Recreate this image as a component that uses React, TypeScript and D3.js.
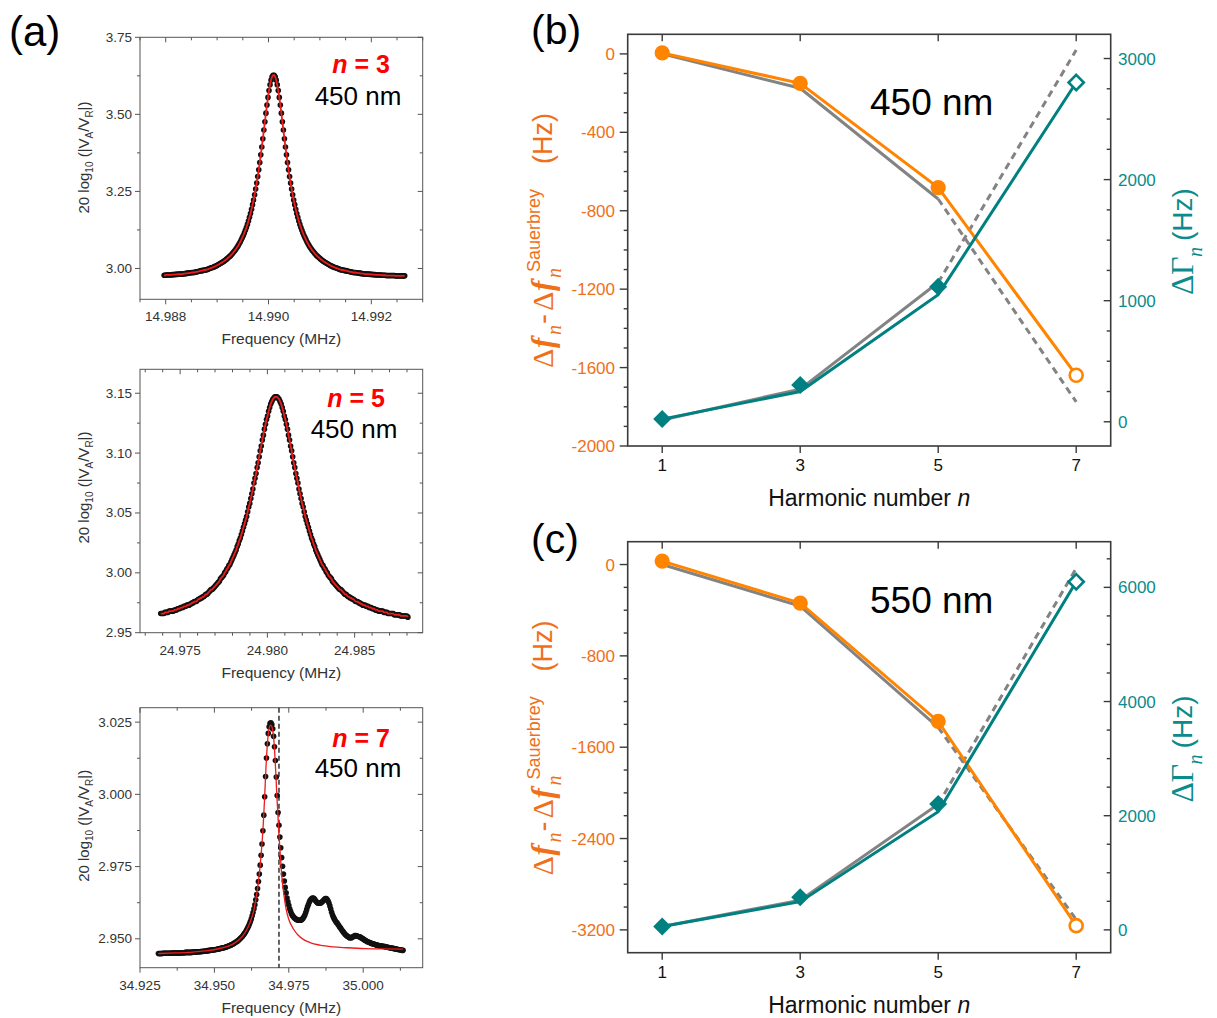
import React from "react";
import * as d3 from "d3";

const SANS = "'Liberation Sans', Arial, Helvetica, sans-serif";
const SERIF = "'Liberation Serif', 'Times New Roman', serif";

// ---------------- (a) resonance spectra, 450 nm film ----------------
// n = 3 sweep
const n3FreqStart = 14.98797; // MHz
const n3FreqStep = 0.00002; // MHz
const n3Level = [
  2.978, 2.978, 2.979, 2.979, 2.979, 2.979, 2.979,
  2.979, 2.980, 2.980, 2.980, 2.981, 2.981, 2.981, 2.982, 2.982, 2.982,
  2.982, 2.982, 2.983, 2.983, 2.984, 2.984, 2.985, 2.985, 2.986, 2.986,
  2.987, 2.987, 2.987, 2.988, 2.989, 2.989, 2.990, 2.991, 2.992, 2.993,
  2.993, 2.994, 2.995, 2.995, 2.996, 2.997, 2.998, 3.000, 3.001, 3.002,
  3.003, 3.005, 3.006, 3.008, 3.009, 3.011, 3.013, 3.015, 3.017, 3.019,
  3.021, 3.023, 3.026, 3.028, 3.031, 3.034, 3.037, 3.040, 3.043, 3.047,
  3.051, 3.055, 3.059, 3.064, 3.069, 3.074, 3.080, 3.086, 3.093, 3.100,
  3.107, 3.115, 3.124, 3.133, 3.143, 3.154, 3.166, 3.178, 3.192, 3.207,
  3.222, 3.239, 3.258, 3.277, 3.298, 3.320, 3.344, 3.369, 3.394, 3.421,
  3.449, 3.476, 3.504, 3.530, 3.555, 3.577, 3.596, 3.611, 3.622, 3.627,
  3.627, 3.622, 3.611, 3.596, 3.577, 3.555, 3.530, 3.504, 3.476, 3.449,
  3.421, 3.394, 3.369, 3.344, 3.320, 3.298, 3.277, 3.258, 3.239, 3.222,
  3.207, 3.192, 3.178, 3.166, 3.154, 3.143, 3.133, 3.124, 3.115, 3.107,
  3.100, 3.093, 3.086, 3.080, 3.074, 3.069, 3.064, 3.059, 3.055, 3.051,
  3.047, 3.043, 3.040, 3.037, 3.034, 3.031, 3.028, 3.026, 3.023, 3.021,
  3.019, 3.017, 3.015, 3.013, 3.011, 3.009, 3.008, 3.006, 3.005, 3.003,
  3.002, 3.001, 3.000, 2.998, 2.997, 2.996, 2.995, 2.995, 2.994, 2.993,
  2.993, 2.992, 2.991, 2.990, 2.989, 2.989, 2.988, 2.987, 2.987, 2.987,
  2.986, 2.986, 2.985, 2.985, 2.984, 2.984, 2.983, 2.983, 2.982, 2.982,
  2.982, 2.982, 2.982, 2.981, 2.981, 2.981, 2.980, 2.980, 2.980, 2.979,
  2.979, 2.979, 2.979, 2.979, 2.979, 2.978, 2.978,
  2.978, 2.978, 2.977, 2.977, 2.977, 2.977, 2.977, 2.977, 2.977, 2.977, 2.977,
  2.976, 2.976, 2.976, 2.976, 2.976, 2.976, 2.976, 2.976, 2.976, 2.976,
];
const n3FreqTicks = [14.988, 14.99, 14.992];
const n3LevelTicks = [3.0, 3.25, 3.5, 3.75];

// n = 5 sweep
const n5FreqStart = 24.97389;
const n5FreqStep = 0.00006;
const n5Level = [
  2.966,
  2.966, 2.966, 2.966, 2.967, 2.967, 2.967, 2.967, 2.968, 2.968, 2.968,
  2.968, 2.968, 2.969, 2.969, 2.969, 2.970, 2.970, 2.970, 2.971, 2.971,
  2.971, 2.972, 2.972, 2.972, 2.973, 2.973, 2.973, 2.974, 2.974, 2.975,
  2.975, 2.976, 2.976, 2.976, 2.977, 2.978, 2.978, 2.979, 2.979, 2.980,
  2.980, 2.981, 2.982, 2.982, 2.983, 2.984, 2.985, 2.986, 2.986, 2.987,
  2.988, 2.989, 2.990, 2.991, 2.992, 2.993, 2.995, 2.996, 2.997, 2.998,
  3.000, 3.001, 3.003, 3.004, 3.006, 3.007, 3.009, 3.011, 3.013, 3.015,
  3.017, 3.019, 3.022, 3.024, 3.027, 3.029, 3.032, 3.035, 3.038, 3.041,
  3.044, 3.047, 3.051, 3.055, 3.058, 3.062, 3.066, 3.070, 3.075, 3.079,
  3.083, 3.088, 3.092, 3.097, 3.102, 3.106, 3.111, 3.115, 3.120, 3.124,
  3.128, 3.131, 3.135, 3.138, 3.141, 3.143, 3.145, 3.146, 3.147,
  3.147,
  3.147, 3.146, 3.145, 3.143, 3.141, 3.138, 3.135, 3.131, 3.128,
  3.124, 3.120, 3.115, 3.111, 3.106, 3.102, 3.097, 3.092, 3.088, 3.083,
  3.079, 3.075, 3.070, 3.066, 3.062, 3.058, 3.055, 3.051, 3.047, 3.044,
  3.041, 3.038, 3.035, 3.032, 3.029, 3.027, 3.024, 3.022, 3.019, 3.017,
  3.015, 3.013, 3.011, 3.009, 3.007, 3.006, 3.004, 3.003, 3.001, 3.000,
  2.998, 2.997, 2.996, 2.995, 2.993, 2.992, 2.991, 2.990, 2.989, 2.988,
  2.987, 2.986, 2.986, 2.985, 2.984, 2.983, 2.982, 2.982, 2.981, 2.980,
  2.980, 2.979, 2.979, 2.978, 2.978, 2.977, 2.976, 2.976, 2.976, 2.975,
  2.975, 2.974, 2.974, 2.973, 2.973, 2.973, 2.972, 2.972, 2.972, 2.971,
  2.971, 2.971, 2.970, 2.970, 2.970, 2.969, 2.969, 2.969, 2.968, 2.968,
  2.968, 2.968, 2.968, 2.967, 2.967, 2.967, 2.967, 2.966, 2.966, 2.966,
  2.966, 2.966, 2.966, 2.965, 2.965, 2.965, 2.965, 2.965, 2.965, 2.964,
  2.964, 2.964, 2.964, 2.964, 2.964, 2.964, 2.963,
];
const n5FreqTicks = [24.975, 24.98, 24.985];
const n5LevelTicks = [2.95, 3.0, 3.05, 3.1, 3.15];

// n = 7 sweep
const n7FreqStart = 34.9312;
const n7FreqStep = 0.0003;
const n7Level = [
  2.9449, 2.9449, 2.9449, 2.9449, 2.9449, 2.9450, 2.9450, 2.9450, 2.9450, 2.9450,
  2.9450, 2.9450, 2.9450, 2.9450, 2.9450, 2.9451, 2.9451, 2.9451, 2.9451, 2.9451,
  2.9451, 2.9451, 2.9451, 2.9451, 2.9451, 2.9452, 2.9452, 2.9452, 2.9452, 2.9452,
  2.9453, 2.9453, 2.9453, 2.9453, 2.9453, 2.9453, 2.9453, 2.9453, 2.9454, 2.9454,
  2.9454, 2.9454, 2.9454, 2.9455, 2.9455, 2.9455, 2.9455, 2.9456, 2.9456, 2.9456,
  2.9457, 2.9457, 2.9457, 2.9458, 2.9458, 2.9459, 2.9459, 2.9460, 2.9460, 2.9461,
  2.9461, 2.9461, 2.9462, 2.9462, 2.9463, 2.9463, 2.9464, 2.9465, 2.9465, 2.9466,
  2.9467, 2.9468, 2.9468, 2.9469, 2.9470, 2.9471, 2.9472, 2.9473, 2.9474, 2.9476,
  2.9477, 2.9478, 2.9480, 2.9481, 2.9483, 2.9485, 2.9487, 2.9489, 2.9491, 2.9493,
  2.9496, 2.9499, 2.9502, 2.9505, 2.9508, 2.9512, 2.9517, 2.9521, 2.9526, 2.9532,
  2.9538, 2.9544, 2.9552, 2.9560, 2.9569, 2.9580, 2.9591, 2.9604, 2.9618, 2.9635,
  2.9653, 2.9674, 2.9698, 2.9724, 2.9755, 2.9789, 2.9828, 2.9874, 2.9928, 2.9992,
  3.0062, 3.0126, 3.0175, 3.0211, 3.0234, 3.0246, 3.0248, 3.0242, 3.0227, 3.0201,
  3.0165, 3.0117, 3.0060, 2.9996, 2.9937, 2.9893, 2.9852, 2.9815, 2.9781, 2.9751,
  2.9724, 2.9700, 2.9678, 2.9659, 2.9641, 2.9628, 2.9616, 2.9604, 2.9595, 2.9587,
  2.9581, 2.9577, 2.9573, 2.9571, 2.9568, 2.9566, 2.9565, 2.9564, 2.9564, 2.9564,
  2.9565, 2.9568, 2.9571, 2.9576, 2.9582, 2.9591, 2.9601, 2.9611, 2.9619, 2.9627,
  2.9633, 2.9637, 2.9640, 2.9641, 2.9640, 2.9637, 2.9632, 2.9628, 2.9625, 2.9623,
  2.9623, 2.9623, 2.9624, 2.9627, 2.9630, 2.9633, 2.9637, 2.9639, 2.9639, 2.9636,
  2.9631, 2.9624, 2.9614, 2.9603, 2.9592, 2.9582, 2.9575, 2.9569, 2.9563, 2.9558,
  2.9555, 2.9550, 2.9546, 2.9541, 2.9537, 2.9532, 2.9528, 2.9524, 2.9520, 2.9516,
  2.9513, 2.9510, 2.9508, 2.9506, 2.9504, 2.9504, 2.9504, 2.9505, 2.9507, 2.9509,
  2.9511, 2.9511, 2.9510, 2.9509, 2.9508, 2.9507, 2.9506, 2.9504, 2.9502, 2.9500,
  2.9498, 2.9496, 2.9494, 2.9492, 2.9490, 2.9489, 2.9488, 2.9486, 2.9485, 2.9484,
  2.9483, 2.9482, 2.9481, 2.9480, 2.9479, 2.9478, 2.9477, 2.9477, 2.9476, 2.9476,
  2.9475, 2.9474, 2.9474, 2.9473, 2.9473, 2.9472, 2.9471, 2.9471, 2.9470, 2.9469,
  2.9469, 2.9468, 2.9467, 2.9467, 2.9466, 2.9465, 2.9465, 2.9464, 2.9463, 2.9463,
  2.9462, 2.9462, 2.9461, 2.9460, 2.9460,
];
// single-resonance fit of the n = 7 spectrum
const n7FitFreq = [
  34.93115, 34.93676, 34.9418, 34.94684, 34.9502, 34.95356, 34.95592, 34.95793,
  34.95961, 34.96096, 34.96213, 34.96314, 34.96398, 34.96465, 34.96533, 34.96583,
  34.96633, 34.96684, 34.96734, 34.96785, 34.96828, 34.96862, 34.96892, 34.96929,
  34.96963, 34.96996, 34.9703, 34.97063, 34.97097, 34.97131, 34.97171, 34.97221,
  34.97272, 34.97339, 34.97406, 34.97484, 34.97652, 34.97809, 34.97988, 34.98213,
  34.98549, 34.98986, 34.99446, 35.00061, 35.00565, 35.01338,
];
const n7FitLevel = [
  2.9449, 2.9451, 2.9453, 2.9458, 2.9463, 2.9471, 2.948, 2.9494,
  2.9511, 2.9533, 2.9561, 2.9594, 2.964, 2.9685, 2.9748, 2.9807,
  2.988, 2.998, 3.0095, 3.018, 3.0222, 3.0236, 3.024, 3.0235,
  3.022, 3.019, 3.014, 3.0075, 3.0, 2.9935, 2.986, 2.978,
  2.971, 2.965, 2.9605, 2.9572, 2.9535, 2.9513, 2.9498, 2.9487,
  2.9478, 2.9472, 2.9469, 2.9466, 2.9465, 2.9464,
];
const n7Marker = 34.9717; // MHz
const n7FreqTicks = [34.925, 34.95, 34.975, 35.0];
const n7LevelTicks = [2.95, 2.975, 3.0, 3.025];

// ---------------- (b), (c) harmonic dependence ----------------
const harmonics = [1, 3, 5, 7];
const openHarmonic = 7;

// 450 nm film
const shift450 = [5, -150, -682, -1639];
const shiftModel450 = [0, -175, -740, -1775];
const gamma450 = [22, 303, 1116, 2802];
const gammaFit450 = [22, 250, 1050, 2802];
const gammaModel450 = [15, 270, 1150, 3070];
const shiftTicks450 = [0, -400, -800, -1200, -1600, -2000];
const gammaTicks450 = [0, 1000, 2000, 3000];

// 550 nm film
const shift550 = [30, -338, -1374, -3163];
const shiftModel550 = [0, -364, -1426, -3110];
const gamma550 = [60, 571, 2205, 6098];
const gammaFit550 = [60, 494, 2070, 6098];
const gammaModel550 = [60, 520, 2200, 6333];
const shiftTicks550 = [0, -800, -1600, -2400, -3200];
const gammaTicks550 = [0, 2000, 4000, 6000];

const ORANGE = "#ff8400";
const ORANGE_TXT = "#f0701a";
const TEAL = "#008080";
const TEAL_TXT = "#0b8b8b";
const GRAY = "#838383";

function minorTicks(domain: number[], step: number, majors: number[]) {
  const lo = Math.ceil(domain[0] / step - 1e-6);
  const hi = Math.floor(domain[1] / step + 1e-6);
  return d3
    .range(lo, hi + 1)
    .map((k) => k * step)
    .filter((v) => !majors.some((m) => Math.abs(m - v) < step * 1e-3));
}

function Spectrum(p: any) {
  const L = 140;
  const R = 422.7;
  const x = d3.scaleLinear().domain(p.xDomain).range([L, R]);
  const y = d3.scaleLinear().domain(p.yDomain).range([p.bottom, p.top]);
  const pts = p.levels.map((v: number, i: number) => [p.freqStart + i * p.freqStep, v]);
  const fitPts = p.fitFreq ? p.fitFreq.map((f: number, i: number) => [f, p.fitLevel[i]]) : pts;
  const fitLine = d3
    .line<any>()
    .x((d) => x(d[0]))
    .y((d) => y(d[1]))
    .curve(d3.curveMonotoneX);
  const xm = minorTicks(p.xDomain, p.xMinor, p.xTicks);
  const ym = minorTicks(p.yDomain, p.yMinor, p.yTicks);
  const fx = d3.format(p.xFmt);
  const fy = d3.format(p.yFmt);
  const ax = "#555";
  const yl = p.yLabelCenter;
  return (
    <g>
      {/* frame */}
      <rect x={L} y={p.top} width={R - L} height={p.bottom - p.top} fill="none" stroke={ax} strokeWidth={1} />
      {p.xTicks.map((t: number) => (
        <g key={"xt" + t}>
          <line x1={x(t)} x2={x(t)} y1={p.bottom} y2={p.bottom + 5} stroke={ax} />
          <line x1={x(t)} x2={x(t)} y1={p.top} y2={p.top + 5} stroke={ax} />
          <text x={x(t)} y={p.bottom + 22} textAnchor="middle" fontSize={13.5} fill="#333">
            {fx(t)}
          </text>
        </g>
      ))}
      {xm.map((t: number) => (
        <g key={"xm" + t}>
          <line x1={x(t)} x2={x(t)} y1={p.bottom} y2={p.bottom + 3} stroke={ax} />
          <line x1={x(t)} x2={x(t)} y1={p.top} y2={p.top + 3} stroke={ax} />
        </g>
      ))}
      {p.yTicks.map((t: number) => (
        <g key={"yt" + t}>
          <line x1={L - 5} x2={L} y1={y(t)} y2={y(t)} stroke={ax} />
          <line x1={R - 5} x2={R} y1={y(t)} y2={y(t)} stroke={ax} />
          <text x={132} y={y(t) + 4.5} textAnchor="end" fontSize={13.5} fill="#333">
            {fy(t)}
          </text>
        </g>
      ))}
      {ym.map((t: number) => (
        <g key={"ym" + t}>
          <line x1={L - 3} x2={L} y1={y(t)} y2={y(t)} stroke={ax} />
          <line x1={R - 3} x2={R} y1={y(t)} y2={y(t)} stroke={ax} />
        </g>
      ))}
      {p.marker !== undefined && (
        <line
          x1={x(p.marker)}
          x2={x(p.marker)}
          y1={p.top}
          y2={p.bottom}
          stroke="#222"
          strokeWidth={1.4}
          strokeDasharray="5,3"
        />
      )}
      {/* measured points */}
      {pts.map((d: number[], i: number) => (
        <circle key={i} cx={x(d[0])} cy={y(d[1])} r={2.8} fill="#111" />
      ))}
      {/* fit */}
      <path d={fitLine(fitPts) || ""} fill="none" stroke="#ee1c1c" strokeWidth={p.fitWidth} />
      {/* axis titles */}
      <text x={(L + R) / 2} y={p.bottom + 45} textAnchor="middle" fontSize={15.5} fill="#333">
        Frequency (MHz)
      </text>
      <text transform={`translate(89,${yl}) rotate(-90)`} textAnchor="middle" fontSize={15} fill="#333">
        20 log<tspan fontSize={10} dy={4}>10</tspan>
        <tspan dy={-4}> (|V</tspan>
        <tspan fontSize={10} dy={4}>A</tspan>
        <tspan dy={-4}>/V</tspan>
        <tspan fontSize={10} dy={4}>R</tspan>
        <tspan dy={-4}>|)</tspan>
      </text>
      {/* annotations */}
      <text x={p.tagX} y={p.tagY} textAnchor="middle" fontSize={25} fontWeight="bold" fill="#ff0000">
        <tspan fontStyle="italic">n</tspan> = {p.harmonic}
      </text>
      <text x={p.filmX} y={p.filmY} textAnchor="middle" fontSize={26} fill="#000">
        450 nm
      </text>
    </g>
  );
}

function Rot(p: any) {
  return (
    <text
      transform={`translate(${p.x},${p.y}) rotate(-90)`}
      fontSize={p.size}
      fontFamily={p.family || SANS}
      fontStyle={p.italic ? "italic" : "normal"}
      fontWeight={p.bold ? "bold" : "normal"}
      fill={p.fill}
    >
      {p.children}
    </text>
  );
}

function diamond(cx: number, cy: number, s: number) {
  return `M${cx},${cy - s}L${cx + s},${cy}L${cx},${cy + s}L${cx - s},${cy}Z`;
}

function HarmonicPanel(p: any) {
  const L = 627.7;
  const R = 1110.7;
  const top = p.top;
  const bottom = p.bottom;
  const o = top - 34.3; // vertical offset of this panel's labels
  const x = d3.scaleLinear().domain([0.5, 7.5]).range([L, R]);
  const yl = d3.scaleLinear().domain(p.shiftDomain).range([bottom, top]);
  const yr = d3.scaleLinear().domain(p.gammaDomain).range([bottom, top]);
  const lineL = d3
    .line<any>()
    .x((d) => x(d[0]))
    .y((d) => yl(d[1]));
  const lineR = d3
    .line<any>()
    .x((d) => x(d[0]))
    .y((d) => yr(d[1]));
  const pair = (vals: number[]) => harmonics.map((h, i) => [h, vals[i]]);
  const ax = "#3a3a3a";
  const lm = minorTicks(p.shiftDomain, p.shiftMinor, p.shiftTicks).filter(
    (v) => Math.abs(yl(v) - top) > 1 && Math.abs(yl(v) - bottom) > 1
  );
  const rm = minorTicks(p.gammaDomain, p.gammaMinor, p.gammaTicks).filter(
    (v) => Math.abs(yr(v) - top) > 1 && Math.abs(yr(v) - bottom) > 1
  );
  const sm = pair(p.shiftModel);
  const gm = pair(p.gammaModel);
  return (
    <g>
      {/* ticks */}
      {p.shiftTicks.map((t: number) => (
        <g key={"l" + t}>
          <line x1={L - 8} x2={L} y1={yl(t)} y2={yl(t)} stroke={ax} strokeWidth={1.4} />
          <text x={615} y={yl(t) + 6} textAnchor="end" fontSize={17} fill={ORANGE_TXT}>
            {t}
          </text>
        </g>
      ))}
      {lm.map((t: number) => (
        <line key={"lm" + t} x1={L - 4} x2={L} y1={yl(t)} y2={yl(t)} stroke={ax} strokeWidth={1.4} />
      ))}
      {p.gammaTicks.map((t: number) => (
        <g key={"r" + t}>
          <line x1={R - 7} x2={R} y1={yr(t)} y2={yr(t)} stroke={ax} strokeWidth={1.4} />
          <text x={1118} y={yr(t) + 6} textAnchor="start" fontSize={17} fill={TEAL_TXT}>
            {t}
          </text>
        </g>
      ))}
      {rm.map((t: number) => (
        <line key={"rm" + t} x1={R - 4} x2={R} y1={yr(t)} y2={yr(t)} stroke={ax} strokeWidth={1.4} />
      ))}
      {harmonics.map((h) => (
        <g key={"x" + h}>
          <line x1={x(h)} x2={x(h)} y1={bottom} y2={bottom + 7} stroke={ax} strokeWidth={1.4} />
          <line x1={x(h)} x2={x(h)} y1={top} y2={top + 7} stroke={ax} strokeWidth={1.4} />
          <text x={x(h)} y={bottom + 25} textAnchor="middle" fontSize={17} fill="#111">
            {h}
          </text>
        </g>
      ))}
      <rect x={L} y={top} width={R - L} height={bottom - top} fill="none" stroke={ax} strokeWidth={1.6} />

      {/* model curves */}
      <path d={lineL(sm.slice(0, 3)) || ""} fill="none" stroke={GRAY} strokeWidth={3} />
      <path d={lineR(gm.slice(0, 3)) || ""} fill="none" stroke={GRAY} strokeWidth={3} />
      <path d={lineL(sm.slice(2)) || ""} fill="none" stroke={GRAY} strokeWidth={3} strokeDasharray="7,5" />
      <path d={lineR(gm.slice(2)) || ""} fill="none" stroke={GRAY} strokeWidth={3} strokeDasharray="7,5" />

      {/* measured curves */}
      <path d={lineL(pair(p.shift)) || ""} fill="none" stroke={ORANGE} strokeWidth={3} />
      <path d={lineR(pair(p.gammaFit)) || ""} fill="none" stroke={TEAL} strokeWidth={3} />

      {harmonics.map((h, i) =>
        h === openHarmonic ? (
          <g key={"m" + h}>
            <circle cx={x(h)} cy={yl(p.shift[i])} r={6.5} fill="#fff" stroke={ORANGE} strokeWidth={2.6} />
            <path d={diamond(x(h), yr(p.gamma[i]), 7.6)} fill="#fff" stroke={TEAL} strokeWidth={2.6} />
          </g>
        ) : (
          <g key={"m" + h}>
            <circle cx={x(h)} cy={yl(p.shift[i])} r={7.6} fill={ORANGE} />
            <path d={diamond(x(h), yr(p.gamma[i]), 9)} fill={TEAL} />
          </g>
        )
      )}

      {/* axis titles */}
      <text x={(L + R) / 2} y={bottom + 60} textAnchor="middle" fontSize={23} fill="#111">
        Harmonic number <tspan fontStyle="italic">n</tspan>
      </text>

      <Rot x={553} y={368 + o} size={30} family={SERIF} fill={ORANGE_TXT}>Δ</Rot>
      <Rot x={553} y={348 + o} size={31} family={SERIF} italic bold fill={ORANGE_TXT}>f</Rot>
      <Rot x={561} y={335 + o} size={20} family={SERIF} italic fill={ORANGE_TXT}>n</Rot>
      <Rot x={553} y={324 + o} size={30} fill={ORANGE_TXT}>-</Rot>
      <Rot x={553} y={311 + o} size={30} family={SERIF} fill={ORANGE_TXT}>Δ</Rot>
      <Rot x={553} y={291 + o} size={31} family={SERIF} italic bold fill={ORANGE_TXT}>f</Rot>
      <Rot x={561} y={278 + o} size={20} family={SERIF} italic fill={ORANGE_TXT}>n</Rot>
      <Rot x={540} y={272 + o} size={18} fill={ORANGE_TXT}>Sauerbrey</Rot>
      <Rot x={552} y={164 + o} size={27} fill={ORANGE_TXT}>(Hz)</Rot>

      <Rot x={1193} y={295 + o} size={32} family={SERIF} fill={TEAL_TXT}>Δ</Rot>
      <Rot x={1193} y={275 + o} size={32} family={SERIF} fill={TEAL_TXT}>Γ</Rot>
      <Rot x={1202} y={257 + o} size={20} family={SERIF} italic fill={TEAL_TXT}>n</Rot>
      <Rot x={1192} y={241 + o} size={28} fill={TEAL_TXT}>(Hz)</Rot>

      <text x={870} y={p.filmY} fontSize={37} fill="#000">
        {p.film}
      </text>
    </g>
  );
}

export default function App() {
  return (
    <svg
      width={1217}
      height={1018}
      viewBox="0 0 1217 1018"
      style={{ position: "absolute", left: 0, top: 0, background: "#fff" }}
      fontFamily={SANS}
    >
      <rect width={1217} height={1018} fill="#fff" />

      <text x={9} y={46} fontSize={42} fill="#000">(a)</text>
      <text x={531} y={44} fontSize={41} fill="#000">(b)</text>
      <text x={531} y={553} fontSize={41} fill="#000">(c)</text>

      <Spectrum
        top={37.3}
        bottom={299.3}
        xDomain={[14.9875, 14.993]}
        yDomain={[2.9, 3.75]}
        xTicks={n3FreqTicks}
        xMinor={0.0005}
        yTicks={n3LevelTicks}
        yMinor={0.125}
        xFmt=".3f"
        yFmt=".2f"
        freqStart={n3FreqStart}
        freqStep={n3FreqStep}
        levels={n3Level}
        fitWidth={1.8}
        harmonic="3"
        tagX={361}
        tagY={73}
        filmX={358}
        filmY={105}
        yLabelCenter={157.5}
      />
      <Spectrum
        top={369.3}
        bottom={632.7}
        xDomain={[24.9727, 24.9889]}
        yDomain={[2.95, 3.17]}
        xTicks={n5FreqTicks}
        xMinor={0.001}
        yTicks={n5LevelTicks}
        yMinor={0.025}
        xFmt=".3f"
        yFmt=".2f"
        freqStart={n5FreqStart}
        freqStep={n5FreqStep}
        levels={n5Level}
        fitWidth={1.8}
        harmonic="5"
        tagX={356}
        tagY={407}
        filmX={354}
        filmY={438}
        yLabelCenter={487.5}
      />
      <Spectrum
        top={707.7}
        bottom={967.7}
        xDomain={[34.925, 35.02]}
        yDomain={[2.94, 3.03]}
        xTicks={n7FreqTicks}
        xMinor={0.0125}
        yTicks={n7LevelTicks}
        yMinor={0.0125}
        xFmt=".3f"
        yFmt=".3f"
        freqStart={n7FreqStart}
        freqStep={n7FreqStep}
        levels={n7Level}
        fitFreq={n7FitFreq}
        fitLevel={n7FitLevel}
        fitWidth={1.3}
        marker={n7Marker}
        harmonic="7"
        tagX={361}
        tagY={747}
        filmX={358}
        filmY={777}
        yLabelCenter={825.8}
      />

      <HarmonicPanel
        top={34.3}
        bottom={446}
        shiftDomain={[-2000, 100]}
        shiftTicks={shiftTicks450}
        shiftMinor={100}
        gammaDomain={[-200, 3200]}
        gammaTicks={gammaTicks450}
        gammaMinor={250}
        shift={shift450}
        shiftModel={shiftModel450}
        gamma={gamma450}
        gammaFit={gammaFit450}
        gammaModel={gammaModel450}
        film="450 nm"
        filmY={115}
      />
      <HarmonicPanel
        top={541.7}
        bottom={952.7}
        shiftDomain={[-3400, 200]}
        shiftTicks={shiftTicks550}
        shiftMinor={200}
        gammaDomain={[-400, 6800]}
        gammaTicks={gammaTicks550}
        gammaMinor={500}
        shift={shift550}
        shiftModel={shiftModel550}
        gamma={gamma550}
        gammaFit={gammaFit550}
        gammaModel={gammaModel550}
        film="550 nm"
        filmY={613}
      />
    </svg>
  );
}
